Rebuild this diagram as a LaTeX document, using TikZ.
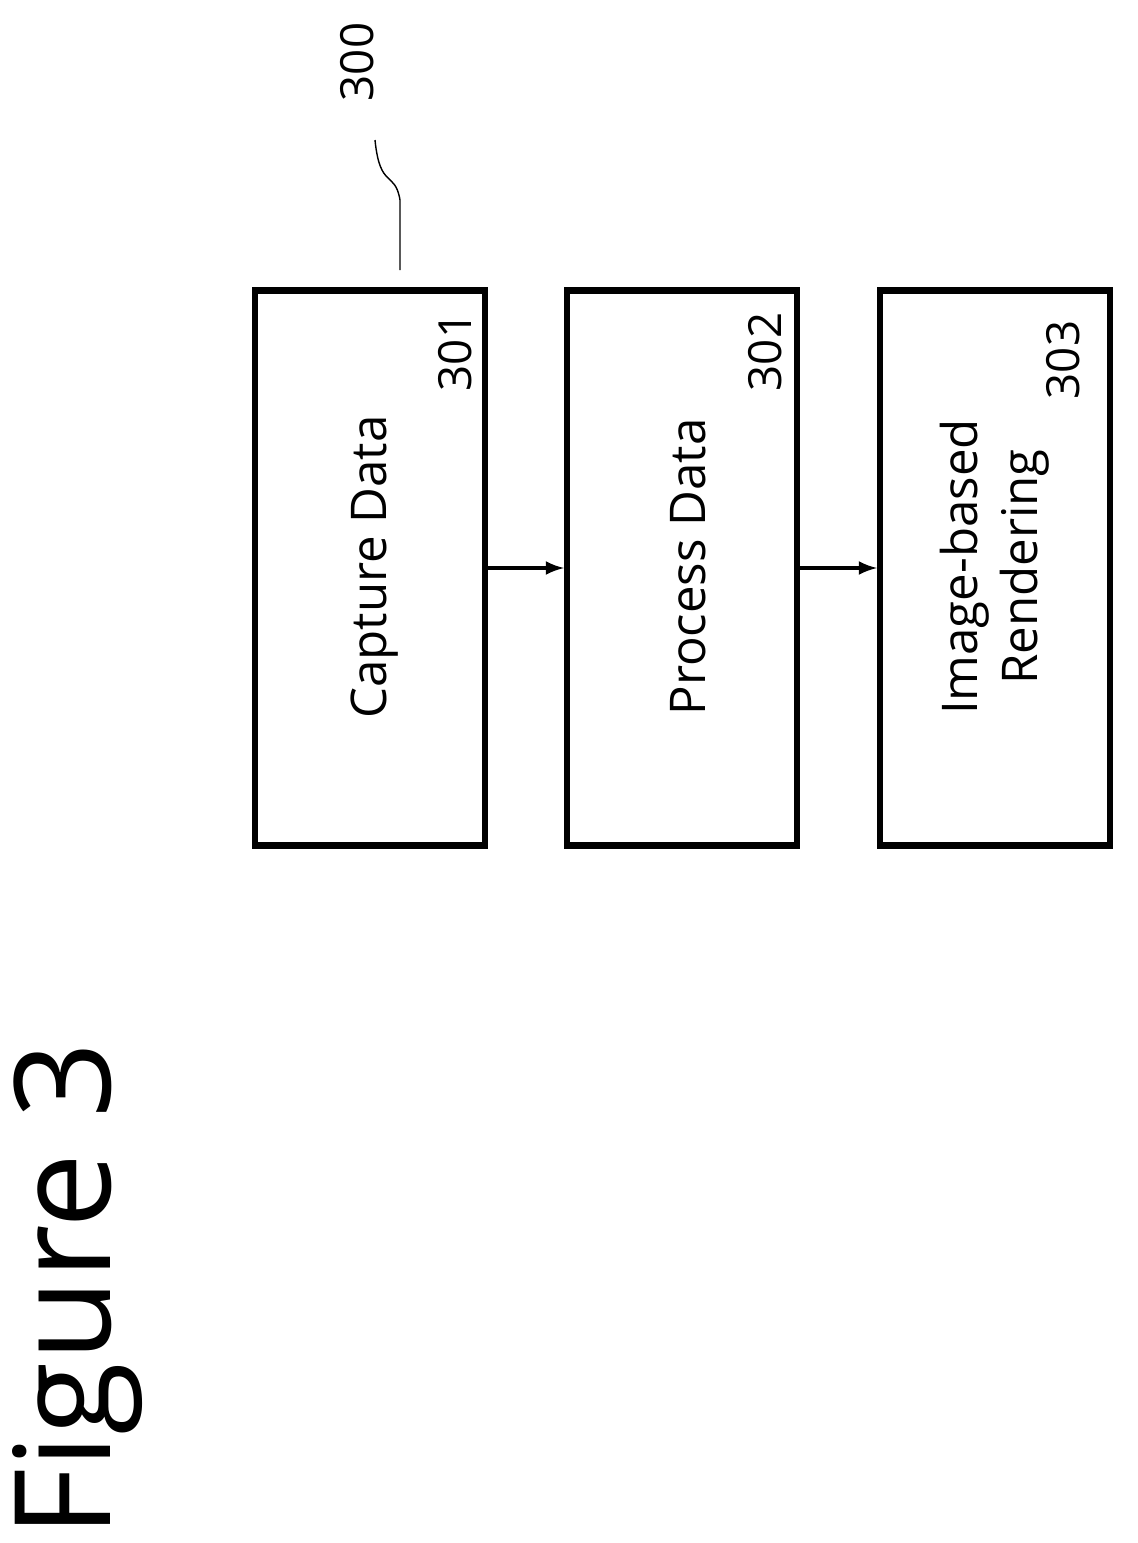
\documentclass[tikz,border=0pt]{standalone}
\usepackage{fontspec}
\setmainfont{Open Sans}
\usetikzlibrary{positioning,calc,decorations.pathmorphing}
\tikzset{
  blockbox/.style={draw,line width=3.5pt,minimum width=4.6cm,minimum height=11.1cm,inner sep=0pt},
  boxtext/.style={rotate=90,font=\fontsize{28}{34}\selectfont,align=center},
  reftext/.style={rotate=90,font=\fontsize{26}{30}\selectfont},
  flowarrow/.style={-latex,line width=2.5pt}
}
\begin{document}
\begin{tikzpicture}[x=0.02cm,y=-0.02cm]
\useasboundingbox (0,0) rectangle (1137,1543);
% blocks
\node[blockbox] (capture) at (370,568) {};
\node[blockbox] (process) at (682,568) {};
\node[blockbox] (render) at (995,568) {};
\node[boxtext] (capturetxt) at (375,567) {Capture Data};
\node[boxtext] (processtxt) at (688,567) {Process Data};
\node[boxtext] (rendertxt) at (995,567) {Image-based\\Rendering};
\node[reftext] (n301) at (455,352) {301};
\node[reftext] (n302) at (765,352) {302};
\node[reftext] (n303) at (1063,360) {303};
% arrows
\draw[flowarrow] (capture.east) -- (process.west);
\draw[flowarrow] (process.east) -- (render.west);
% reference numeral
\node[reftext] (n300) at (357,62) {300};
\coordinate (leadtop) at (375,140);
\coordinate (leadbot) at (400,270);
\draw[line width=0.8pt] (leadtop) .. controls (380,190) and (395,170) .. (400,200) -- (leadbot);
% title
\node[rotate=90,font=\fontsize{76}{90}\selectfont] (title) at (78,1290) {Figure 3};
\end{tikzpicture}
\end{document}
